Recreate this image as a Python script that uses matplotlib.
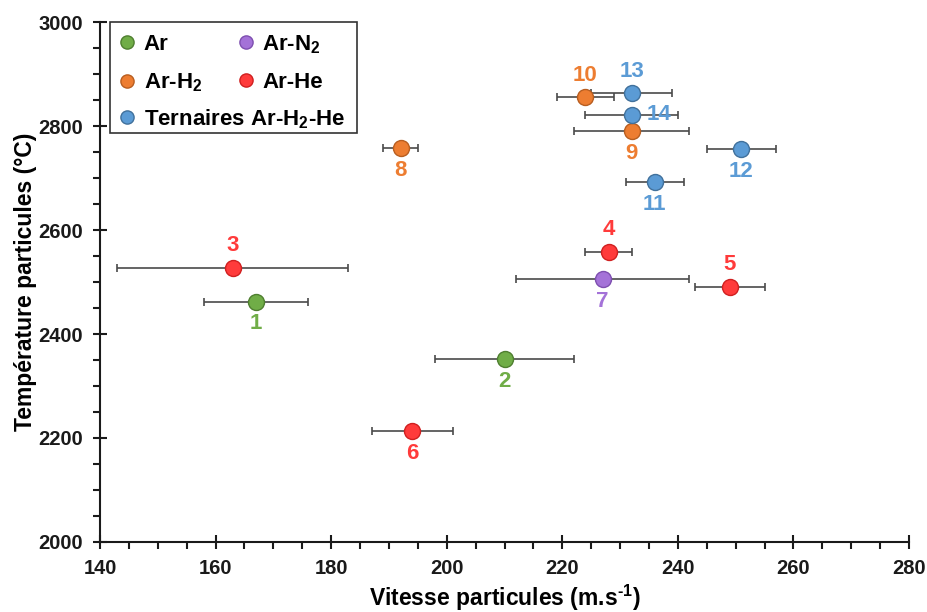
import matplotlib
matplotlib.use('Agg')
import matplotlib.pyplot as plt
from matplotlib.lines import Line2D
from matplotlib.patches import Rectangle
from matplotlib.ticker import MultipleLocator

plt.rcParams['font.family'] = ['Liberation Sans', 'DejaVu Sans']
plt.rcParams['font.weight'] = 'bold'
plt.rcParams['mathtext.fontset'] = 'custom'
plt.rcParams['mathtext.rm'] = 'Liberation Sans:bold'
plt.rcParams['mathtext.bf'] = 'Liberation Sans:bold'
plt.rcParams['mathtext.it'] = 'Liberation Sans:bold'

# Data: particle velocity / temperature for each test
essais = [1, 2, 3, 4, 5, 6, 7, 8, 9, 10, 11, 12, 13, 14]
vitesse = [167, 210, 163, 228, 249, 194, 227, 192, 232, 224, 236, 251, 232, 232]
temperature = [2462, 2352, 2527, 2558, 2490, 2213, 2505, 2758, 2790, 2855, 2692, 2756, 2863, 2822]
err_vitesse = [9, 12, 20, 4, 6, 7, 15, 3, 10, 5, 5, 6, 7, 8]
err_temp = [0, 0, 0, 0, 0, 0, 0, 0, 0, 0, 0, 0, 10, 0]
gaz = ['Ar', 'Ar', 'Ar-He', 'Ar-He', 'Ar-He', 'Ar-He', 'Ar-N2',
       'Ar-H2', 'Ar-H2', 'Ar-H2', 'Tern', 'Tern', 'Tern', 'Tern']
position = ['bas', 'bas', 'haut', 'haut', 'haut', 'bas', 'bas',
            'bas', 'bas', 'haut', 'bas', 'bas', 'haut', 'droite']

couleurs = {'Ar': '#70AD47', 'Ar-H2': '#ED7D31', 'Ar-N2': '#A472D8',
            'Ar-He': '#FF3B3B', 'Tern': '#5B9BD5'}
bords = {'Ar': '#4F7F30', 'Ar-H2': '#B85E20', 'Ar-N2': '#7E4FB0',
         'Ar-He': '#D02020', 'Tern': '#41719C'}
noms = {'Ar': 'Ar', 'Ar-H2': r'Ar-H$_2$', 'Ar-N2': r'Ar-N$_2$',
        'Ar-He': 'Ar-He', 'Tern': r'Ternaires Ar-H$_2$-He'}

fig = plt.figure(figsize=(9.28, 6.12), dpi=100)
ax = fig.add_axes([0.1078, 0.1144, 0.8717, 0.8496])

# error bars first, markers on top
ax.errorbar(vitesse, temperature, xerr=err_vitesse, yerr=err_temp, fmt='none',
            ecolor='#4a4a4a', elinewidth=1.2, capsize=3, capthick=1.2, zorder=2)

decalages = {'haut': (0, 16), 'bas': (0, -16), 'droite': (20, 0)}
for i in range(len(essais)):
    g = gaz[i]
    ax.plot(vitesse[i], temperature[i], 'o', ms=11.5, mfc=couleurs[g],
            mec=bords[g], mew=1, zorder=3)
    ax.annotate(str(essais[i]), (vitesse[i], temperature[i]),
                xytext=decalages[position[i]], textcoords='offset points',
                ha='center', va='center', fontsize=16, fontweight='bold',
                color=couleurs[g])

ax.set_xlim(140, 280)
ax.set_ylim(2000, 3000)
ax.xaxis.set_major_locator(MultipleLocator(20))
ax.xaxis.set_minor_locator(MultipleLocator(5))
ax.yaxis.set_major_locator(MultipleLocator(200))
ax.yaxis.set_minor_locator(MultipleLocator(50))
ax.tick_params(which='major', direction='inout', length=10, width=1.5,
               labelsize=14.5, colors='#1a1a1a', pad=7)
ax.tick_params(which='minor', direction='out', length=5, width=1.5, colors='#1a1a1a')
for s in ['top', 'right']:
    ax.spines[s].set_visible(False)
for s in ['left', 'bottom']:
    ax.spines[s].set_linewidth(1.5)
    ax.spines[s].set_color('#1a1a1a')

ax.set_xlabel(r'Vitesse particules (m.s$^{\text{-1}}$)', fontsize=16.5,
              fontweight='bold', labelpad=4)
ax.set_ylabel('Température particules (°C)', fontsize=16.5, fontweight='bold',
              labelpad=1)

# legend: two frameless legends inside one rectangle
def poignee(g):
    return Line2D([], [], ls='none', marker='o', ms=9.5, mfc=couleurs[g],
                  mec=bords[g], mew=1, label=noms[g])

opts = dict(frameon=False, fontsize=16, handlelength=1.0, handletextpad=0.25,
            borderpad=0, borderaxespad=0, loc='upper left')
leg1 = ax.legend(handles=[poignee(g) for g in ['Ar', 'Ar-H2', 'Ar-N2', 'Ar-He']],
                 ncol=2, columnspacing=1.45, labelspacing=0.74,
                 bbox_to_anchor=(0.0198, 0.9785), **opts)
ax.add_artist(leg1)
ax.legend(handles=[poignee('Tern')], bbox_to_anchor=(0.0198, 0.8362), **opts)
ax.add_patch(Rectangle((0.012, 0.787), 0.306, 0.213, transform=ax.transAxes,
                       fill=False, ec='#333333', lw=1.2, zorder=5, clip_on=False))

plt.savefig('out.png', dpi=100)
